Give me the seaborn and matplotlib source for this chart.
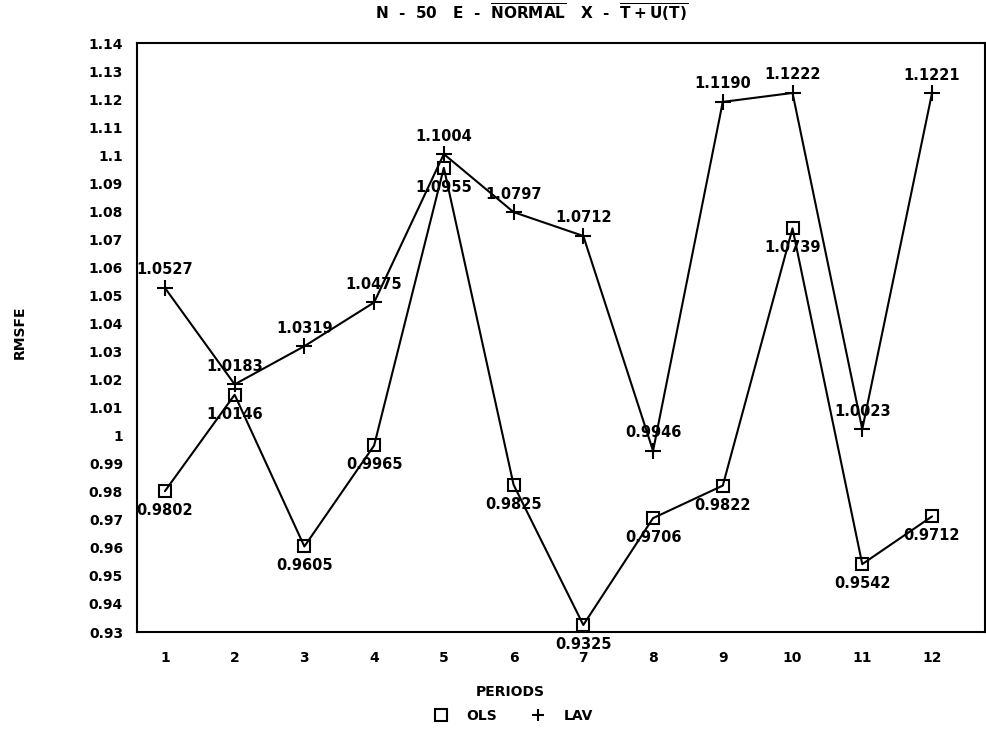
import pandas as pd
import numpy as np
import matplotlib
matplotlib.use("Agg")
import matplotlib.pyplot as plt
from matplotlib.lines import Line2D
import seaborn as sns

# values
periods = [1, 2, 3, 4, 5, 6, 7, 8, 9, 10, 11, 12]
ols = [0.9802, 1.0146, 0.9605, 0.9965, 1.0955, 0.9825,
       0.9325, 0.9706, 0.9822, 1.0739, 0.9542, 0.9712]
lav = [1.0527, 1.0183, 1.0319, 1.0475, 1.1004, 1.0797,
       1.0712, 0.9946, 1.1190, 1.1222, 1.0023, 1.1221]
yticks = [0.93, 0.94, 0.95, 0.96, 0.97, 0.98, 0.99, 1.00, 1.01, 1.02, 1.03,
          1.04, 1.05, 1.06, 1.07, 1.08, 1.09, 1.10, 1.11, 1.12, 1.13, 1.14]
ytick_labels = ["0.93", "0.94", "0.95", "0.96", "0.97", "0.98", "0.99", "1", "1.01",
                "1.02", "1.03", "1.04", "1.05", "1.06", "1.07", "1.08", "1.09", "1.1",
                "1.11", "1.12", "1.13", "1.14"]

df_ols = pd.DataFrame({"period": periods, "rmsfe": ols})
df_lav = pd.DataFrame({"period": periods, "rmsfe": lav})

sns.set_style("white")
plt.rcParams["font.family"] = ["DejaVu Sans"]
plt.rcParams["font.weight"] = "bold"
plt.rcParams["text.color"] = "black"
plt.rcParams["axes.labelcolor"] = "black"
plt.rcParams["xtick.color"] = "black"
plt.rcParams["ytick.color"] = "black"
plt.rcParams["mathtext.fontset"] = "custom"
plt.rcParams["mathtext.rm"] = "DejaVu Sans:bold"
plt.rcParams["mathtext.it"] = "DejaVu Sans:bold"

fig = plt.figure(figsize=(9.87, 7.36), dpi=100)
ax = fig.add_axes([137 / 987, 1 - 632 / 736, (985 - 137) / 987, (632 - 43) / 736])

sns.lineplot(data=df_ols, x="period", y="rmsfe", color="black", linewidth=1.5,
             marker="s", markersize=9, markerfacecolor="none",
             markeredgecolor="black", markeredgewidth=1.5, ax=ax)
sns.lineplot(data=df_lav, x="period", y="rmsfe", color="black", linewidth=1.5,
             marker="+", markersize=12, markeredgecolor="black",
             markeredgewidth=1.5, ax=ax)

# value labels: LAV above, OLS below
for x, y in zip(periods, lav):
    ax.annotate(f"{y:.4f}", (x, y), xytext=(0, 13), textcoords="offset points",
                ha="center", va="center", fontsize=10.5, fontweight="bold")
for x, y in zip(periods, ols):
    ax.annotate(f"{y:.4f}", (x, y), xytext=(0, -14), textcoords="offset points",
                ha="center", va="center", fontsize=10.5, fontweight="bold")

ax.set_xlim(0.6, 12.76)
ax.set_ylim(0.93, 1.14)
ax.set_xticks(periods)
ax.set_xticklabels([str(p) for p in periods], fontsize=10, fontweight="bold")
ax.set_yticks(yticks)
ax.set_yticklabels(ytick_labels, fontsize=10, fontweight="bold")
ax.tick_params(axis="both", direction="in", length=9, width=1.2, colors="black",
               pad=10)
ax.tick_params(axis="x", pad=14)
for s in ax.spines.values():
    s.set_color("black")
    s.set_linewidth(1.5)
ax.set_xlabel("")
ax.set_ylabel("")

fig.text(510 / 987, 1 - 692 / 736, "PERIODS", ha="center", va="center",
         fontsize=10, fontweight="bold")
fig.text(20 / 987, 1 - 332 / 736, "RMSFE", ha="center", va="center",
         rotation=90, fontsize=10, fontweight="bold")
fig.text(532 / 987, 1 - 13 / 736,
         r"N  -  50   E  -  $\overline{\mathrm{NORMAL}}$   X  -  $\overline{\mathrm{T+U(T)}}$",
         ha="center", va="center", fontsize=11, fontweight="bold")

handles = [
    Line2D([], [], linestyle="none", marker="s", markersize=8, markerfacecolor="none",
           markeredgecolor="black", markeredgewidth=1.5, label="OLS"),
    Line2D([], [], linestyle="none", marker="+", markersize=9,
           markeredgecolor="black", markeredgewidth=1.5, label="LAV"),
]
fig.legend(handles=handles, loc="center", bbox_to_anchor=(510 / 987, 1 - 716 / 736),
           ncol=2, frameon=False, prop={"size": 10, "weight": "bold"},
           handletextpad=0.8, columnspacing=2.0)

fig.savefig("out.png", dpi=100)
